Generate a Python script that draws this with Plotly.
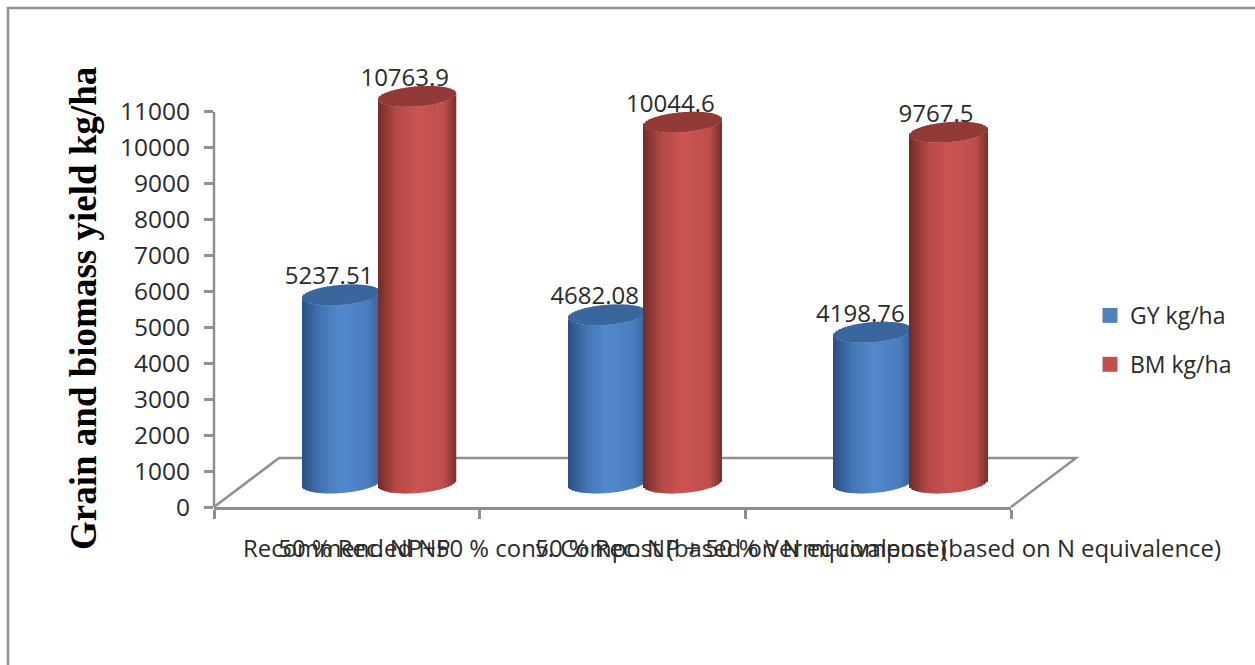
import plotly.graph_objects as go
import numpy as np

# Yield data per treatment
categories = [
    "Recommended NP",
    "50 % Rec. NP+50 % conv. Compost (based on N equivalence)",
    "50 % Rec. NP + 50 % Vermi-compost (based on N equivalence)",
]
positions = [1, 2, 3]
gy_values = [5237.51, 4682.08, 4198.76]
bm_values = [10763.9, 10044.6, 9767.5]
y_ticks = list(range(0, 12000, 1000))

# Frame of the plot in page pixels; the y range leaves headroom for the tallest cylinder
W, H = 1255, 665
L, R, B = 214, 1011, 507
PX_Y = 395 / 11000
X_RANGE = [0.5, 3.5]
Y_RANGE = [0, 12000]
T = B - Y_RANGE[1] * PX_Y
PX_X = (R - L) / (X_RANGE[1] - X_RANGE[0])

# Cylinder geometry, expressed in axis units
FLOOR_LIFT = 24 / PX_Y
HALF_W = 39 / PX_X
RY = 10 / PX_Y
TILT = 3 / PX_Y
N_SLICES = 52


def shade(stops, u):
    t = np.array([s[0] for s in stops])
    rgb = [np.interp(u, t, [s[1][i] for s in stops]) for i in range(3)]
    return "rgb({:.0f},{:.0f},{:.0f})".format(*rgb)


BLUE_BODY = [(-1, (42, 80, 128)), (-0.5, (68, 118, 180)), (0.0, (84, 136, 205)),
             (0.7, (74, 124, 190)), (1, (54, 98, 152))]
RED_BODY = [(-1, (112, 44, 42)), (-0.55, (178, 72, 70)), (0.0, (204, 84, 82)),
            (0.7, (190, 78, 76)), (1, (122, 48, 46))]
BLUE_CAP = (58, 102, 158)
RED_CAP = (146, 58, 56)


def cylinder_trace(name, values, shift, body, cap):
    xs, bases, heights, colors = [], [], [], []
    edges = np.linspace(-1, 1, N_SLICES + 1)
    mids = (edges[:-1] + edges[1:]) / 2
    for pos, val in zip(positions, values):
        for u in mids:
            arc = RY * np.sqrt(1 - u * u)
            x = pos + shift + u * HALF_W
            tilt = TILT * u
            bottom = FLOOR_LIFT + tilt - arc
            front_top = FLOOR_LIFT + val + tilt - arc
            back_top = FLOOR_LIFT + val + tilt + arc
            xs += [x, x]
            bases += [bottom, front_top]
            heights += [front_top - bottom, back_top - front_top]
            colors += [shade(body, u), "rgb({},{},{})".format(*cap)]
    return go.Bar(
        x=xs, y=heights, base=bases,
        width=[2 * HALF_W / N_SLICES * 1.05] * len(xs),
        marker=dict(color=colors, line=dict(width=0)),
        cliponaxis=False, showlegend=False, hoverinfo="skip", name=name,
    )


GY_SHIFT = -0.02
BM_SHIFT = 0.265
LABEL_DX = -0.047
LABEL_DY = 16.5 / PX_Y
TEXT = "#2a2a2a"

fig = go.Figure()
fig.add_trace(cylinder_trace("GY kg/ha", gy_values, GY_SHIFT, BLUE_BODY, BLUE_CAP))
fig.add_trace(cylinder_trace("BM kg/ha", bm_values, BM_SHIFT, RED_BODY, RED_CAP))

# Value labels above each cylinder
label_font = dict(family="Open Sans", size=24, color=TEXT)
for vals, shift, fmt in ((gy_values, GY_SHIFT, "{:.2f}"), (bm_values, BM_SHIFT, "{:.1f}")):
    fig.add_trace(go.Scatter(
        x=[p + shift + LABEL_DX for p in positions],
        y=[v + FLOOR_LIFT + LABEL_DY for v in vals],
        text=[fmt.format(v) for v in vals],
        mode="text", textposition="middle center", textfont=label_font,
        cliponaxis=False, showlegend=False, hoverinfo="skip",
    ))

# Legend entries
for name, col, group in (("GY kg/ha", "#4f81bd", "a"), ("BM kg/ha", "#c0504d", "b")):
    fig.add_trace(go.Scatter(
        x=[None], y=[None], mode="markers", name=name, legendgroup=group,
        marker=dict(symbol="square", size=15, color=col),
    ))


def px(x):
    return (x - L) / (R - L)


def py(y):
    return (B - y) / (B - T)


GRID = "#8f8f8f"
DEPTH_X, DEPTH_Y = 65, 49
floor_path = "M{},{} L{},{} L{},{} L{},{}".format(
    px(L), py(B), px(L + DEPTH_X), py(B - DEPTH_Y),
    px(R + DEPTH_X), py(B - DEPTH_Y), px(R), py(B))

fig.update_layout(
    width=W, height=H,
    margin=dict(l=L, r=W - R, t=T, b=H - B, autoexpand=False),
    paper_bgcolor="white", plot_bgcolor="rgba(0,0,0,0)",
    barmode="overlay",
    font=dict(family="Open Sans", color=TEXT),
    xaxis=dict(
        range=X_RANGE, tickmode="array", tickvals=positions, ticktext=categories,
        tickangle=0, ticks="", showgrid=False, zeroline=False,
        showline=True, linecolor=GRID, linewidth=2.5,
        ticklabelstandoff=19,
        tickfont=dict(family="Open Sans", size=23.9, color=TEXT),
        minor=dict(tickmode="array", tickvals=[0.5, 1.5, 2.5, 3.5], ticks="outside",
                   ticklen=9, tickcolor=GRID, tickwidth=2.5, showgrid=False),
    ),
    yaxis=dict(
        range=Y_RANGE, tickmode="array", tickvals=y_ticks,
        ticktext=[str(t) for t in y_ticks],
        ticks="outside", ticklen=9, tickcolor=GRID, tickwidth=2.5,
        ticklabelstandoff=9,
        showgrid=False, zeroline=False, showline=False,
        tickfont=dict(family="Open Sans", size=24.5, color=TEXT),
    ),
    legend=dict(
        x=px(1090), y=py(294), xanchor="left", yanchor="top",
        font=dict(family="Open Sans", size=23, color=TEXT),
        tracegroupgap=16, bgcolor="rgba(0,0,0,0)",
    ),
    annotations=[
        dict(text="Grain and biomass yield kg/ha", textangle=-90, showarrow=False,
             xref="paper", yref="paper", x=px(84), y=py(309),
             xanchor="center", yanchor="middle",
             font=dict(family="Liberation Serif", size=37, color="black", weight="bold")),
    ],
    shapes=[
        dict(type="path", xref="paper", yref="paper", path=floor_path,
             line=dict(color=GRID, width=2.5), layer="below"),
        # value axis stops at its last tick
        dict(type="line", xref="paper", yref="paper",
             x0=0, x1=0, y0=0, y1=y_ticks[-1] / Y_RANGE[1],
             line=dict(color=GRID, width=2.5), layer="below"),
        dict(type="rect", xref="paper", yref="paper",
             x0=px(8), x1=px(1300), y0=py(8), y1=py(720),
             line=dict(color="#929292", width=2.5), layer="below"),
    ],
)

fig.write_html("out.html")
